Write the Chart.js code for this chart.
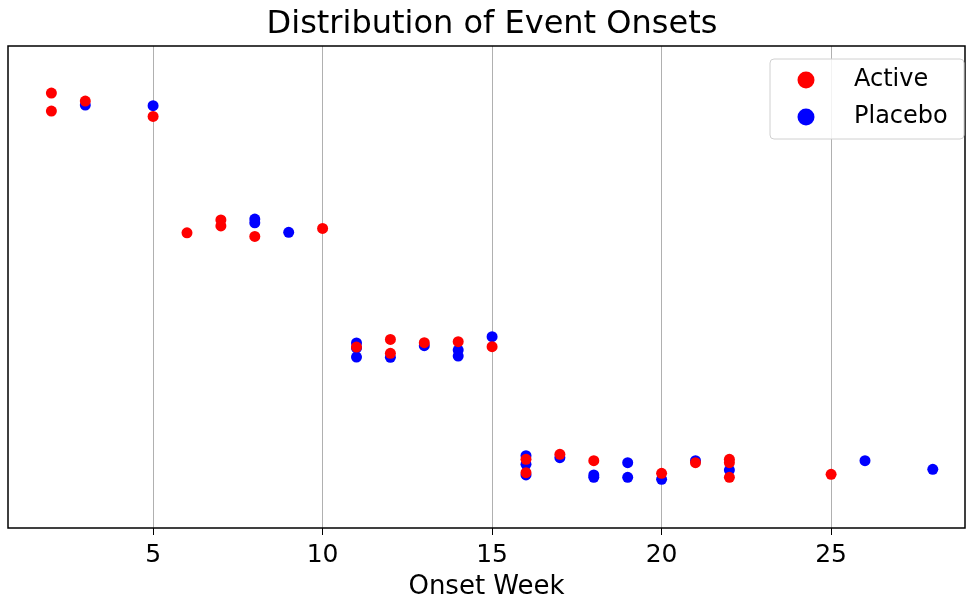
<!DOCTYPE html>
<html>
<head>
<meta charset="utf-8">
<script src="https://cdn.jsdelivr.net/npm/chart.js@4"></script>
<style>
  html, body { margin: 0; padding: 0; background: #fff; }
  #wrap { width: 966px; height: 598px; }
</style>
</head>
<body>
<div id="wrap"><canvas id="chart" width="966" height="598"></canvas></div>
<script>
// Onset week and jittered row position for each subject
const activeWeek = [2, 2, 3, 5, 6, 7, 7, 8, 10, 11, 12, 12, 13, 14, 15, 16, 16, 17, 18, 20, 21, 22, 22, 22, 25];
const activeRow  = [4.125, 3.975, 4.058, 3.93, 2.96, 3.067, 3.017, 2.93, 2.997, 2.008, 2.072, 1.956, 2.044, 2.053, 2.011, 1.072, 0.961, 1.114, 1.061, 0.956, 1.044, 1.072, 1.044, 0.922, 0.947];

const placeboWeek = [3, 5, 8, 8, 9, 11, 11, 11, 12, 13, 14, 14, 15, 16, 16, 16, 17, 18, 18, 19, 19, 20, 21, 22, 26, 28];
const placeboRow  = [4.025, 4.02, 3.075, 3.044, 2.964, 2.042, 2.0, 1.925, 1.922, 2.019, 1.983, 1.933, 2.094, 1.103, 1.031, 0.942, 1.086, 0.942, 0.922, 1.044, 0.922, 0.906, 1.061, 0.983, 1.061, 0.989];

const xTicks = [5, 10, 15, 20, 25];

const chartTitle = 'Distribution of Event Onsets';

const toPoints = (xs, ys) => xs.map((x, i) => ({ x: x, y: ys[i] }));

// Frame round the plot area, like a matplotlib axes box
const frame = {
    id: 'frame',
    afterDatasetsDraw(chart) {
        const a = chart.chartArea;
        const ctx = chart.ctx;
        ctx.save();
        ctx.strokeStyle = '#000';
        ctx.lineWidth = 1.5;
        ctx.strokeRect(a.left, a.top, a.right - a.left, a.bottom - a.top);
        ctx.restore();
    }
};

// Title, centred a little right of the canvas middle as in the source figure
const topTitle = {
    id: 'topTitle',
    afterDraw(chart) {
        const ctx = chart.ctx;
        ctx.save();
        ctx.font = '32px "DejaVu Sans"';
        ctx.fillStyle = '#000';
        ctx.textAlign = 'center';
        ctx.textBaseline = 'alphabetic';
        ctx.fillText(chartTitle, 492, 33);
        ctx.restore();
    }
};

// Legend drawn inside the upper right corner
const innerLegend = {
    id: 'innerLegend',
    afterDraw(chart) {
        const a = chart.chartArea;
        const ctx = chart.ctx;
        const w = 194, h = 80;
        const x0 = a.right - 1 - w, y0 = a.top + 13;
        ctx.save();
        ctx.fillStyle = 'rgba(255,255,255,0.85)';
        ctx.strokeStyle = '#d0d0d0';
        ctx.lineWidth = 1;
        ctx.beginPath();
        ctx.roundRect(x0, y0, w, h, 4);
        ctx.fill();
        ctx.stroke();
        ctx.font = '24px "DejaVu Sans"';
        ctx.textBaseline = 'middle';
        chart.data.datasets.forEach((ds, i) => {
            const cy = y0 + 21 + i * 37;
            ctx.fillStyle = ds.backgroundColor;
            ctx.beginPath();
            ctx.arc(x0 + 36, cy, 8.5, 0, Math.PI * 2);
            ctx.fill();
            ctx.fillStyle = '#000';
            ctx.fillText(ds.label, x0 + 84, cy);
        });
        ctx.restore();
    }
};

new Chart(document.getElementById('chart'), {
    type: 'scatter',
    data: {
        datasets: [
            {
                label: 'Active',
                data: toPoints(activeWeek, activeRow),
                backgroundColor: 'rgb(255, 0, 0)',
                borderWidth: 0,
                pointRadius: 5.5,
                pointHoverRadius: 5.5,
            },
            {
                label: 'Placebo',
                data: toPoints(placeboWeek, placeboRow),
                backgroundColor: 'rgb(0, 0, 255)',
                borderWidth: 0,
                pointRadius: 5.5,
                pointHoverRadius: 5.5,
            },
        ]
    },
    options: {
        responsive: false,
        animation: false,
        layout: {
            autoPadding: false,
            padding: { left: 8, right: 1, top: 46, bottom: 0 },
        },
        scales: {
            x: {
                type: 'linear',
                min: 0.72,
                max: 28.95,
                afterBuildTicks: (scale) => {
                    scale.ticks = xTicks.map(v => ({ value: v }));
                },
                afterFit: (scale) => {
                    scale.height = 70;
                    scale.paddingLeft = 0;
                    scale.paddingRight = 0;
                },
                grid: {
                    color: '#b0b0b0',
                    lineWidth: 1,
                    tickColor: '#000',
                    tickLength: 7,
                    drawOnChartArea: true,
                },
                border: { display: false },
                ticks: {
                    color: '#000',
                    padding: 5,
                    font: { family: 'DejaVu Sans', size: 25 },
                    maxRotation: 0,
                },
                title: {
                    display: true,
                    text: 'Onset Week',
                    color: '#000',
                    font: { family: 'DejaVu Sans', size: 26, lineHeight: 0.85 },
                    padding: { top: 0, bottom: 0 },
                },
            },
            y: {
                display: false,
                min: 0.5,
                max: 4.517,
            }
        },
        plugins: {
            legend: { display: false },
            tooltip: { enabled: false },
            title: { display: false },
        }
    },
    plugins: [frame, innerLegend, topTitle],
});
</script>
</body>
</html>
